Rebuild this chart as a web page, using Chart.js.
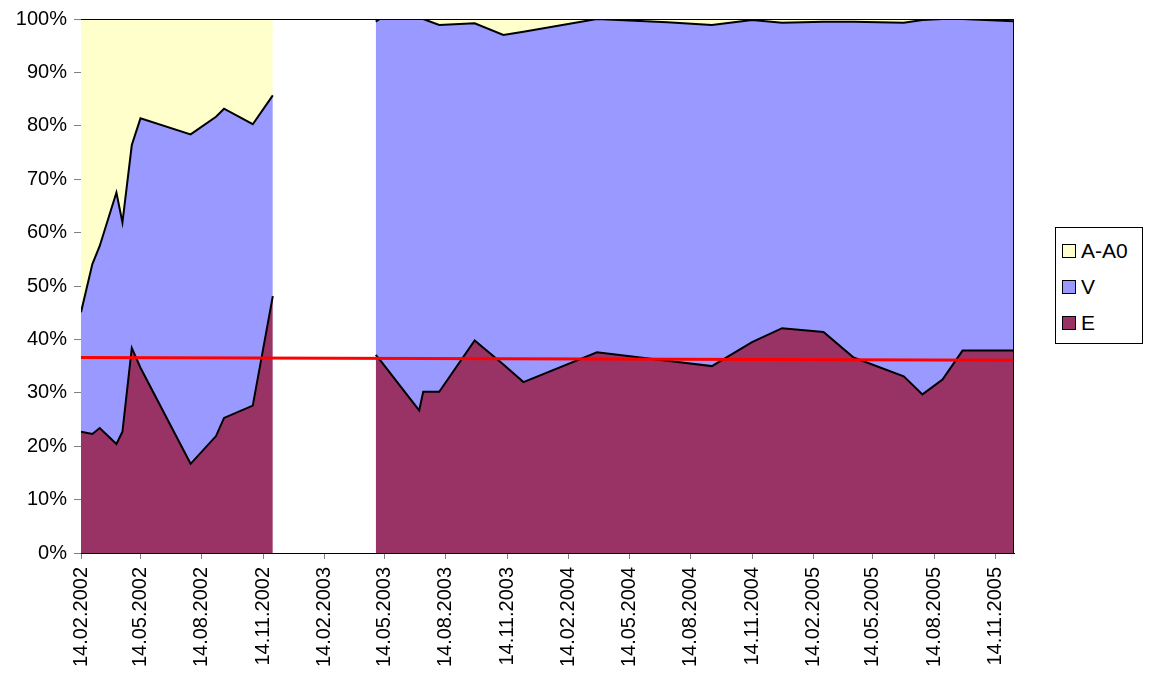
<!DOCTYPE html>
<html>
<head>
<meta charset="utf-8">
<script src="https://cdn.jsdelivr.net/npm/chart.js@4.4.1/dist/chart.umd.min.js"></script>
<style>
  html, body { margin: 0; padding: 0; background: #fff; }
  #wrap { position: relative; width: 1151px; height: 683px; }
  #legend {
    position: absolute; left: 1055px; top: 227px; width: 86px; height: 115px;
    border: 1px solid #000; background: #fff;
    font-family: "Liberation Sans", Arial, sans-serif; font-size: 21px; color: #000;
  }
  #legend .item { position: absolute; left: 6px; height: 24px; display: flex; align-items: center; }
  #legend .sw { width: 12px; height: 12px; border: 1px solid #000; margin-right: 5px; }
</style>
</head>
<body>
<div id="wrap">
  <canvas id="c" width="1151" height="683"></canvas>
  <div id="legend"></div>
</div>
<script>
// ---- data (shares in % of total, per date) ----
const dates = [
  '14.02.2002','03.03.2002','14.03.2002','08.04.2002','17.04.2002','01.05.2002',
  '14.05.2002','28.07.2002','04.09.2002','16.09.2002','29.10.2002','28.11.2002',
  '14.02.2003',
  '01.05.2003','07.05.2003','05.07.2003','11.07.2003','04.08.2003','26.09.2003',
  '08.11.2003','08.12.2003','27.03.2004','10.07.2004','15.09.2004','14.11.2004',
  '29.12.2004','01.03.2005','15.04.2005','29.06.2005','27.07.2005','26.08.2005',
  '25.09.2005','11.12.2005'
];
const seriesE = [
  22.7, 22.3, 23.4, 20.4, 22.7, 38.4, 34.7, 16.7, 21.9, 25.3, 27.6, 48.1,
  null,
  37.1, 36.2, 26.7, 30.2, 30.2, 39.8, 35.3, 32.0, 37.6, 36.0, 35.0, 39.5,
  42.1, 41.4, 36.6, 33.1, 29.7, 32.5, 37.9, 37.9
];
const seriesV = [
  22.4, 31.8, 34.1, 47.1, 39.2, 38.0, 46.7, 61.7, 59.8, 57.9, 52.7, 37.6,
  null,
  62.4, 63.8, 73.3, 69.8, 68.7, 59.4, 61.7, 65.6, 62.4, 63.4, 63.9, 60.3,
  57.2, 58.1, 62.9, 66.2, 70.1, 67.5, 62.1, 61.7
];
const seriesA = [
  54.9, 45.9, 42.5, 32.5, 38.1, 23.6, 18.6, 21.6, 18.3, 16.8, 19.7, 14.3,
  null,
  0.5, 0.0, 0.0, 0.0, 1.1, 0.8, 3.0, 2.4, 0.0, 0.6, 1.1, 0.2,
  0.7, 0.5, 0.5, 0.7, 0.2, 0.0, 0.0, 0.4
];
const trendDates = ['14.02.2002', '11.12.2005'];
const trendValues = [36.6, 36.1];
const tickLabels = [
  '14.02.2002','14.05.2002','14.08.2002','14.11.2002','14.02.2003','14.05.2003',
  '14.08.2003','14.11.2003','14.02.2004','14.05.2004','14.08.2004','14.11.2004',
  '14.02.2005','14.05.2005','14.08.2005','14.11.2005'
];
const seriesNames = ['E', 'V', 'A-A0'];
const seriesColors = ['#993366', '#9999FF', '#FFFFCC'];

// ---- helpers ----
function dayNum(s) {
  const p = s.split('.').map(Number);
  return (Date.UTC(p[2], p[1] - 1, p[0]) - Date.UTC(2002, 1, 14)) / 86400000;
}
const xs = dates.map(dayNum);
const tickDays = tickLabels.map(dayNum);
function pts(vals) { return vals.map((v, i) => ({ x: xs[i], y: v })); }

const FONT = { family: '"Liberation Sans", Arial, sans-serif', size: 20 };

const framePlugin = {
  id: 'frame',
  afterDatasetsDraw(chart) {
    const a = chart.chartArea, ctx = chart.ctx;
    ctx.save();
    ctx.strokeStyle = '#000';
    ctx.lineWidth = 1;
    ctx.beginPath();
    ctx.moveTo(a.left, a.top + 0.5); ctx.lineTo(a.right, a.top + 0.5);
    ctx.moveTo(a.right - 0.5, a.top); ctx.lineTo(a.right - 0.5, a.bottom);
    ctx.stroke();
    ctx.restore();
  }
};

const areaDs = (i, fill) => ({
  label: seriesNames[i],
  data: pts([seriesE, seriesV, seriesA][i]),
  backgroundColor: seriesColors[i],
  borderColor: '#000',
  borderWidth: 2,
  pointRadius: 0,
  tension: 0,
  fill: fill,
  stack: 'main',
  spanGaps: false
});

new Chart(document.getElementById('c'), {
  type: 'line',
  data: {
    datasets: [
      areaDs(0, 'origin'),
      areaDs(1, '-1'),
      areaDs(2, '-1'),
      {
        label: 'trend',
        data: trendDates.map((d, i) => ({ x: dayNum(d), y: trendValues[i] })),
        borderColor: '#FF0000',
        borderWidth: 3,
        pointRadius: 0,
        fill: false,
        stack: 'trend',
        order: -1
      }
    ]
  },
  options: {
    responsive: false,
    animation: false,
    devicePixelRatio: 1,
    layout: { padding: { left: 0, right: 137, top: 18, bottom: 0 } },
    plugins: { legend: { display: false }, tooltip: { enabled: false } },
    scales: {
      x: {
        type: 'linear',
        min: 0,
        max: xs[xs.length - 1],
        afterBuildTicks(scale) { scale.ticks = tickDays.map(v => ({ value: v })); },
        afterFit(scale) { scale.height = 130; },
        ticks: {
          autoSkip: false,
          minRotation: 90,
          maxRotation: 90,
          padding: 8,
          color: '#000',
          font: FONT,
          callback: (v, i) => tickLabels[i]
        },
        grid: { drawOnChartArea: false, drawTicks: true, tickLength: 6, tickColor: '#808080' },
        border: { display: true, color: '#000', width: 1 }
      },
      y: {
        stacked: true,
        min: 0,
        max: 100,
        afterFit(scale) { scale.width = 81; },
        ticks: {
          stepSize: 10,
          padding: 7,
          color: '#000',
          font: FONT,
          callback: v => v + '%'
        },
        grid: { drawOnChartArea: false, drawTicks: true, tickLength: 7, tickColor: '#808080' },
        border: { display: true, color: '#000', width: 1 }
      }
    }
  },
  plugins: [framePlugin]
});

// HTML legend (reverse stacking order)
const lg = document.getElementById('legend');
[2, 1, 0].forEach((k, r) => {
  const it = document.createElement('div');
  it.className = 'item';
  it.style.top = (11 + r * 36) + 'px';
  it.innerHTML = '<span class="sw" style="background:' + seriesColors[k] + '"></span><span>' + seriesNames[k] + '</span>';
  lg.appendChild(it);
});
</script>
</body>
</html>
